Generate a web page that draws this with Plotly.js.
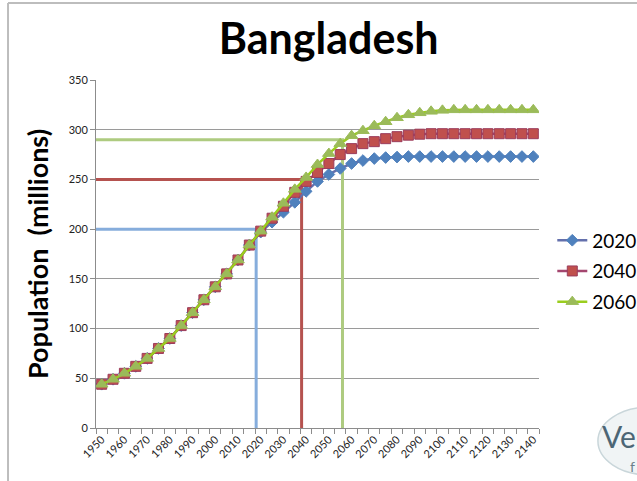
<!DOCTYPE html>
<html>
<head>
<meta charset="utf-8">
<script src="https://cdn.plot.ly/plotly-3.0.1.min.js"></script>
<style>
  html, body { margin: 0; padding: 0; background: #fff; }
  #chart { width: 637px; height: 481px; }
</style>
</head>
<body>
<div id="chart"></div>
<script>
// ---- Data ----
const years = [1950,1955,1960,1965,1970,1975,1980,1985,1990,1995,2000,2005,2010,2015,
  2020,2025,2030,2035,2040,2045,2050,2055,2060,2065,2070,2075,2080,2085,2090,2095,
  2100,2105,2110,2115,2120,2125,2130,2135,2140];

const series2020 = [44,49,55,62,70,80,90,103,116,129,142,155,169,184,
  197,207,217,227,238,248,255,261,266,269,271,272,272.5,273,273,273,
  273,273,273,273,273,273,273,273,273];

const series2040 = [44,49,55,62,70,80,90,103,116,129,142,155,169,184,
  198,211,223,237,248,257,266,275,281,286,288,291,293,294.5,295.5,296,
  296,296,296,296,296,296,296,296,296];

const series2060 = [44,49,55,62,70,80,90,103,116,129,142,155,169,184,
  198,212,226,240,252,265,276,286,294,299,304,308,312,315,317,318.5,
  319.5,320,320,320,320,320,320,320,320];

const seriesNames = ["2020","2040","2060"];
const milestoneYears = [2018, 2038, 2056];
const milestoneValues = [200, 250, 290];
const xTickYears = [1950,1960,1970,1980,1990,2000,2010,2020,2030,2040,2050,2060,2070,2080,2090,2100,2110,2120,2130,2140];
const yTickValues = [0,50,100,150,200,250,300,350];

// ---- Styles ----
const axisStart = 1947.5, axisEnd = 2142.5;
const milestoneColors = ["#86ADDC", "#B5524F", "#AECB80"];
const lineColors = ["#6470AC", "#A4466F", "#9ACD1E"];
const markerColors = ["#4F81BD", "#C0504D", "#9BBB59"];
const markerLineColors = ["#4F81BD", "#9B3C5C", "#9BBB59"];
const markerSymbols = ["diamond", "square", "triangle-up"];
const markerSizes = [9, 10, 11];
const font = "Lato, 'Noto Sans', 'DejaVu Sans', sans-serif";

const traces = [];
milestoneYears.forEach((yr, i) => {
  traces.push({
    x: [axisStart, yr, yr],
    y: [milestoneValues[i], milestoneValues[i], 0],
    mode: "lines",
    line: { color: milestoneColors[i], width: 3 },
    showlegend: false,
    hoverinfo: "skip",
    cliponaxis: false
  });
});
[series2020, series2040, series2060].forEach((vals, i) => {
  traces.push({
    x: years,
    y: vals,
    name: seriesNames[i],
    legendgroup: "g" + i,
    mode: "lines+markers",
    line: { color: lineColors[i], width: 2.5 },
    marker: { symbol: markerSymbols[i], size: markerSizes[i], color: markerColors[i],
              line: { color: markerLineColors[i], width: 1 } }
  });
});

const layout = {
  width: 637, height: 481,
  margin: { l: 96, r: 98, t: 80, b: 53, autoexpand: false },
  paper_bgcolor: "#fff",
  plot_bgcolor: "#fff",
  font: { family: font, color: "#000" },
  title: {
    text: "<b>Bangladesh</b>",
    font: { family: font, size: 43, color: "#000" },
    x: 0.516, xanchor: "center",
    y: 0.918, yanchor: "middle", yref: "container"
  },
  xaxis: {
    range: [axisStart, axisEnd],
    tickvals: xTickYears,
    ticktext: xTickYears.map(String),
    tickangle: -45,
    ticks: "",
    tickfont: { size: 11, color: "#222" },
    showgrid: false,
    zeroline: false,
    showline: true,
    linecolor: "#8C8C8C",
    linewidth: 1,
    minor: { tick0: 1947.5, dtick: 5, ticks: "outside", ticklen: 5, tickcolor: "#8C8C8C", showgrid: false }
  },
  yaxis: {
    range: [0, 350],
    tickvals: yTickValues,
    ticks: "outside",
    ticklen: 5,
    tickcolor: "#8C8C8C",
    tickfont: { size: 11, color: "#222" },
    showgrid: true,
    gridcolor: "#9A9A9A",
    gridwidth: 1,
    zeroline: false,
    showline: true,
    linecolor: "#8C8C8C",
    linewidth: 1,
    title: { text: "<b>Population  (millions)</b>", font: { family: font, size: 27, color: "#000" }, standoff: 12 }
  },
  legend: {
    x: 1.03, xanchor: "left",
    y: 0.45, yanchor: "middle",
    font: { family: font, size: 19, color: "#000" },
    bgcolor: "rgba(0,0,0,0)",
    itemwidth: 30,
    traceorder: "grouped",
    tracegroupgap: 3
  },
  shapes: [
    // slide frame (left and top edges)
    { type: "line", xref: "paper", yref: "paper", x0: -0.1986, x1: -0.1986, y0: 1.221, y1: -0.16,
      line: { color: "#BDBDBD", width: 2 } },
    { type: "line", xref: "paper", yref: "paper", x0: -0.1986, x1: 1.23, y0: 1.221, y1: 1.221,
      line: { color: "#BDBDBD", width: 2 } },
    // partial logo oval at bottom right
    { type: "circle", xref: "paper", yref: "paper", x0: 1.133, x1: 1.363, y0: -0.135, y1: 0.06,
      line: { color: "#C9D6DA", width: 1.5 }, fillcolor: "rgba(225,233,236,0.5)" }
  ],
  annotations: [
    { text: "Ve", xref: "paper", yref: "paper", x: 1.1377, y: -0.022, xanchor: "left", yanchor: "middle",
      showarrow: false, font: { family: font, size: 30, color: "#4C6675" } },
    { text: "f", xref: "paper", yref: "paper", x: 1.2, y: -0.11, xanchor: "left", yanchor: "middle",
      showarrow: false, font: { family: font, size: 14, color: "#6B7F89" } }
  ]
};

Plotly.newPlot("chart", traces, layout, { displayModeBar: false, staticPlot: true });
</script>
</body>
</html>
